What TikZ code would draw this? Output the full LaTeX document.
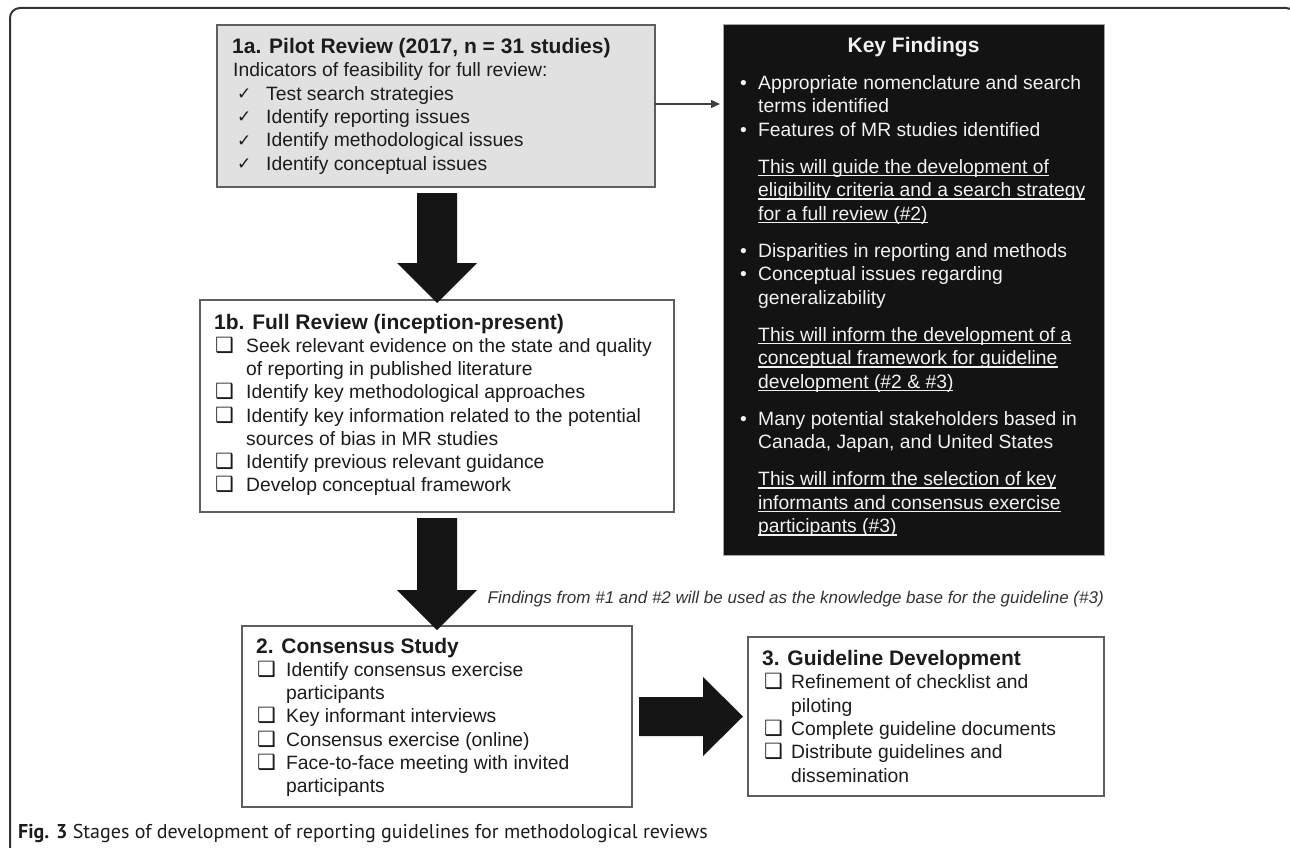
\documentclass[tikz,border=0pt]{standalone}
\usepackage{fontspec}
\setmainfont{Liberation Sans}
\newfontfamily\symf{DejaVu Sans}
\newfontfamily\capf{PT Sans}
\usetikzlibrary{arrows.meta,calc}
\definecolor{ink}{HTML}{1C1C1C}
\definecolor{pilotfill}{HTML}{E1E1E1}
\definecolor{keyfill}{HTML}{131313}
\definecolor{edge}{HTML}{5E5E5E}
\definecolor{blkfill}{HTML}{151515}
\definecolor{keytext}{HTML}{F2F2F2}
\newcommand\ck{\raisebox{0.5pt}{\symf\fontsize{17}{17}\selectfont ✓}}
\newcommand\cbx{\raisebox{0pt}{\symf\fontsize{21}{21}\selectfont ❑}}
\newcommand\myul[1]{\setbox0\hbox{#1}\rlap{\rule[-2.8pt]{\wd0}{1.1pt}}\box0}
\newcommand\fs{\rule{0pt}{17pt}}
\newcommand\ttl{\bfseries\fontsize{21}{23}\selectfont}
\tikzset{
  boxbase/.style={anchor=north west, inner sep=0pt, outer sep=0pt, line width=1.5pt, draw=edge},
  txt/.style={anchor=north west, inner sep=0pt, align=left, text=ink},
  blk/.style={fill=blkfill},
  conn/.style={draw=ink!85, line width=1.4pt, -{Triangle[length=9pt,width=8pt]}, shorten >=3pt},
  frame/.style={draw=ink!90, line width=2pt, rounded corners=10pt}
}
\begin{document}
\begin{tikzpicture}[x=1pt,y=-1pt]
\useasboundingbox (0,0) rectangle (1290,848);
\draw[frame] (10,852) -- (10,8) -- (1296,8) -- (1296,852);

% boxes
\node[boxbase, fill=pilotfill, minimum width=438, minimum height=162] (pilot) at (217,25) {};
\node[boxbase, fill=keyfill, draw=gray!70, line width=1pt, minimum width=381, minimum height=530] (key) at (723,25) {};
\node[boxbase, fill=white, minimum width=474, minimum height=212] (full) at (200,300) {};
\node[boxbase, fill=white, minimum width=390, minimum height=181] (cons) at (242,626) {};
\node[boxbase, fill=white, minimum width=356, minimum height=159] (guide) at (748,637) {};

% pilot text
\node[txt, font=\fontsize{19.3}{23.3}\selectfont] (pilottxt) at (232,36.3) {%
\fs{\ttl 1a. Pilot Review (2017, n = 31 studies)}\\
\hspace*{1pt}Indicators of feasibility for full review:\\
\hspace*{5pt}\makebox[29pt][l]{\ck}Test search strategies\\
\hspace*{5pt}\makebox[29pt][l]{\ck}Identify reporting issues\\
\hspace*{5pt}\makebox[29pt][l]{\ck}Identify methodological issues\\
\hspace*{5pt}\makebox[29pt][l]{\ck}Identify conceptual issues};

% full review text
\node[txt, font=\fontsize{19.3}{23.2}\selectfont] (fulltxt) at (214,312) {%
\fs{\ttl 1b. Full Review (inception-present)}\\
\hspace*{1pt}\makebox[31pt][l]{\cbx}Seek relevant evidence on the state and quality\\
\hspace*{32pt}of reporting in published literature\\
\hspace*{1pt}\makebox[31pt][l]{\cbx}Identify key methodological approaches\\
\hspace*{1pt}\makebox[31pt][l]{\cbx}Identify key information related to the potential\\
\hspace*{32pt}sources of bias in MR studies\\
\hspace*{1pt}\makebox[31pt][l]{\cbx}Identify previous relevant guidance\\
\hspace*{1pt}\makebox[31pt][l]{\cbx}Develop conceptual framework};

% key findings text
\node[anchor=base, inner sep=0pt, text=keytext, font=\ttl] (keytitle) at (913.5,53) {Key Findings};
\node[txt, text=keytext, font=\fontsize{19.3}{23.5}\selectfont] (keytxt) at (740,72) {%
\fs\makebox[18pt][l]{•}Appropriate nomenclature and search\\
\hspace*{18pt}terms identified\\
\makebox[18pt][l]{•}Features of MR studies identified\\[13.5pt]
\hspace*{18pt}\myul{This will guide the development of}\\
\hspace*{18pt}\myul{eligibility criteria and a search strategy}\\
\hspace*{18pt}\myul{for a full review (\#2)}\\[13.5pt]
\makebox[18pt][l]{•}Disparities in reporting and methods\\
\makebox[18pt][l]{•}Conceptual issues regarding\\
\hspace*{18pt}generalizability\\[13.5pt]
\hspace*{18pt}\myul{This will inform the development of a}\\
\hspace*{18pt}\myul{conceptual framework for guideline}\\
\hspace*{18pt}\myul{development (\#2 \& \#3)}\\[13.5pt]
\makebox[18pt][l]{•}Many potential stakeholders based in\\
\hspace*{18pt}Canada, Japan, and United States\\[13.5pt]
\hspace*{18pt}\myul{This will inform the selection of key}\\
\hspace*{18pt}\myul{informants and consensus exercise}\\
\hspace*{18pt}\myul{participants (\#3)}};

% consensus text
\node[txt, font=\fontsize{19.3}{23.2}\selectfont] (constxt) at (256,636) {%
\fs{\ttl 2. Consensus Study}\\
\hspace*{1pt}\makebox[29pt][l]{\cbx}Identify consensus exercise\\
\hspace*{30pt}participants\\
\hspace*{1pt}\makebox[29pt][l]{\cbx}Key informant interviews\\
\hspace*{1pt}\makebox[29pt][l]{\cbx}Consensus exercise (online)\\
\hspace*{1pt}\makebox[29pt][l]{\cbx}Face-to-face meeting with invited\\
\hspace*{30pt}participants};

% guideline text
\node[txt, font=\fontsize{19.3}{23.4}\selectfont] (guidetxt) at (762,648) {%
\fs{\ttl 3. Guideline Development}\\
\hspace*{2pt}\makebox[27pt][l]{\cbx}Refinement of checklist and\\
\hspace*{29pt}piloting\\
\hspace*{2pt}\makebox[27pt][l]{\cbx}Complete guideline documents\\
\hspace*{2pt}\makebox[27pt][l]{\cbx}Distribute guidelines and\\
\hspace*{29pt}dissemination};

% note and caption
\node[anchor=base east, inner sep=0pt, text=ink!90, font=\itshape\fontsize{17}{20}\selectfont] (note) at (1104,603) {Findings from \#1 and \#2 will be used as the knowledge base for the guideline (\#3)};
\node[anchor=base west, inner sep=0pt, text=ink, font=\capf\fontsize{20}{22}\selectfont] (caption) at (18,838) {\textbf{Fig. 3} Stages of development of reporting guidelines for methodological reviews};

% connectors
\draw[conn] ([yshift=2pt]pilot.east) -- ([yshift=2pt]pilot.east -| key.west);
\fill[blk] let \p1=($(pilot.south)+(1,6)$), \p2=($(full.north)+(0,3)$) in
  (\x1-20pt,\y1) -- (\x1+20pt,\y1) -- (\x1+20pt,\y2+40pt) -- (\x1+40pt,\y2+40pt) -- (\x1,\y2) -- (\x1-40pt,\y2+40pt) -- (\x1-20pt,\y2+40pt) -- cycle;
\fill[blk] let \p1=($(full.south)+(0,6)$), \p2=($(cons.north)+(0,4)$) in
  (\x1-20pt,\y1) -- (\x1+20pt,\y1) -- (\x1+20pt,\y2+40pt) -- (\x1+40pt,\y2+40pt) -- (\x1,\y2) -- (\x1-40pt,\y2+40pt) -- (\x1-20pt,\y2+40pt) -- cycle;
\fill[blk] let \p1=($(cons.east)+(7,0)$), \p2=($(guide.west)+(-5,0)$) in
  (\x1,\y1+19.5pt) -- (\x2-40pt,\y1+19.5pt) -- (\x2-40pt,\y1+39.5pt) -- (\x2,\y1) -- (\x2-40pt,\y1-39.5pt) -- (\x2-40pt,\y1-19.5pt) -- (\x1,\y1-19.5pt) -- cycle;
\end{tikzpicture}
\end{document}
